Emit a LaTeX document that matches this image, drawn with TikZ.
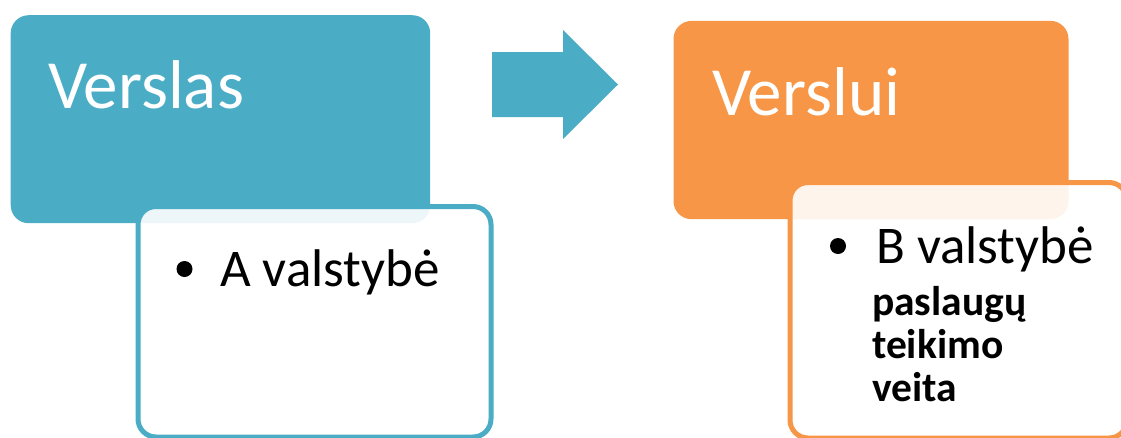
\documentclass[tikz,border=0pt]{standalone}
\usepackage{fontspec}
\setmainfont{Carlito}
\definecolor{cblue}{HTML}{4BACC6}
\definecolor{corange}{HTML}{F79646}
\begin{document}
\begin{tikzpicture}[x=1pt,y=-1pt,
  head/.style={rounded corners=18pt, inner sep=0pt, anchor=north west},
  sub/.style={rounded corners=18pt, inner sep=0pt, anchor=north west, line width=5pt, fill=white, fill opacity=0.9, draw opacity=1},
  title/.style={anchor=base west, inner sep=0pt, text=white, font=\fontsize{69}{83}\selectfont},
  item/.style={anchor=base west, inner sep=0pt, font=\fontsize{53}{64}\selectfont},
  bolditem/.style={anchor=base west, inner sep=0pt, font=\bfseries\fontsize{41.5}{50}\selectfont},
  dot/.style={circle, fill=black, minimum size=16pt, inner sep=0pt}]
\useasboundingbox (0,0) rectangle (1121,437);
\clip (0,0) rectangle (1121,437);
% left group
\node[head, fill=cblue, minimum width=419.5pt, minimum height=208pt] (hA) at (10.5,15) {};
\node[sub, draw=cblue, minimum width=353pt, minimum height=230.5pt] (sA) at (135.5,204) {};
\node[title] (tA) at (48,108) {Verslas};
\node[dot] (bA) at (184.5,269) {};
\node[item] (iA) at (220,286) {A valstybė};
% arrow
\fill[cblue] (492,52) -- (563,52) -- (563,30) -- (618,84.5) -- (563,139) -- (563,117) -- (492,117) -- cycle;
% right group
\node[head, fill=corange, minimum width=395pt, minimum height=198.3pt] (hB) at (673.3,20.7) {};
\node[sub, draw=corange, minimum width=337pt, minimum height=255.5pt] (sB) at (787.5,180) {};
\node[title] (tB) at (712,115) {Verslui};
\node[dot] (bB) at (838,246) {};
\node[item] (iB) at (876,263) {B valstybė};
\node[bolditem] (l1) at (872,315) {paslaugų};
\node[bolditem] (l2) at (872,358) {teikimo};
\node[bolditem] (l3) at (872,401) {veita};
\end{tikzpicture}
\end{document}
